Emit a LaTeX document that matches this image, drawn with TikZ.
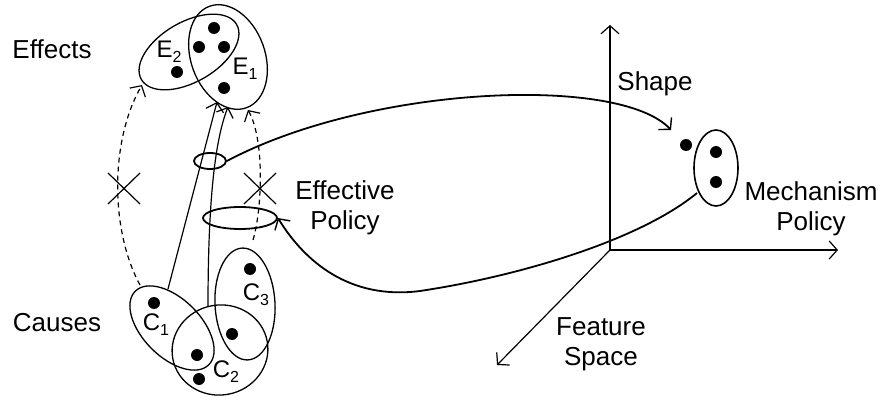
\documentclass[tikz,border=0pt]{standalone}
\usepackage{fontspec}
\setmainfont{Liberation Sans}
\usetikzlibrary{arrows.meta,shapes.geometric}
\newcommand\subl[2]{#1\raisebox{-5pt}{\fontsize{16}{16}\selectfont #2}}
\begin{document}
\begin{tikzpicture}[x=1pt,y=1pt,
  lbl/.style={font=\fontsize{26}{30}\selectfont, align=center, inner sep=0pt},
  sublbl/.style={font=\fontsize{24}{26}\selectfont, inner sep=0pt},
  oval/.style={draw, line width=1.3pt, ellipse, inner sep=0pt},
  dot/.style={fill, circle, minimum size=12pt, inner sep=0pt},
  barb/.style={-{Straight Barb[length=8pt,width=18pt,line width=1.2pt]}},
  thinline/.style={line width=1.2pt},
  curveline/.style={line width=1.8pt},
  dashline/.style={line width=1.2pt, dash pattern=on 5pt off 4pt}
]
\useasboundingbox (0,0) rectangle (881,-401);

% effect sets
\node[oval, minimum width=110pt, minimum height=60pt, rotate=30] (E2) at (189,-52) {};
\node[oval, minimum width=74pt, minimum height=108pt, rotate=20] (E1) at (228,-57) {};
\node[dot] (ed1) at (214,-28) {};
\node[dot] (ed2) at (199,-47) {};
\node[dot] (ed3) at (224,-47) {};
\node[dot] (ed4) at (177,-72) {};
\node[dot] (ed5) at (224,-88) {};
\node[sublbl] (E2l) at (169,-52) {\subl{E}{2}};
\node[sublbl] (E1l) at (245,-69) {\subl{E}{1}};

% cause sets
\node[oval, minimum width=104pt, minimum height=58pt, rotate=-45] (C1) at (172,-328) {};
\node[oval, minimum width=96pt, minimum height=90pt, rotate=10] (C2) at (220,-350) {};
\node[oval, minimum width=60pt, minimum height=112pt, rotate=3] (C3) at (245,-304) {};
\node[dot] (cd1) at (154,-303) {};
\node[dot] (cd2) at (250,-269) {};
\node[dot] (cd3) at (232,-334) {};
\node[dot] (cd4) at (197,-355) {};
\node[dot] (cd5) at (199,-379) {};
\node[sublbl] (C1l) at (156,-325) {\subl{C}{1}};
\node[sublbl] (C3l) at (256,-295) {\subl{C}{3}};
\node[sublbl] (C2l) at (226,-372) {\subl{C}{2}};

% policy ellipses
\node[oval, line width=1.8pt, minimum width=32pt, minimum height=16pt] (small) at (210,-161) {};
\node[oval, line width=1.8pt, minimum width=74pt, minimum height=22pt] (big) at (240,-218) {};

% mechanism
\node[oval, line width=1.6pt, minimum width=44pt, minimum height=76pt] (mech) at (716,-168) {};
\node[dot] (md1) at (716,-152) {};
\node[dot] (md2) at (716,-182) {};
\node[dot] (md3) at (686,-145) {};

% connector endpoints
\coordinate (c1top) at (168,-289);
\coordinate (e1a) at (217,-102);
\coordinate (c2top) at (208,-307);
\coordinate (e1b) at (228,-107);
\coordinate (c1l) at (140,-285);
\coordinate (e2b) at (142,-85);
\coordinate (c3t) at (253,-240);
\coordinate (e1c) at (248,-110);
\coordinate (shapeend) at (671,-130);
\coordinate (mechout) at (697,-193);
\coordinate (mid) at (420,-291);

% solid causal links
\draw[thinline, barb] (c1top) -- (e1a);
\draw[thinline, barb] (c2top) .. controls (208,-200) and (215,-140) .. (e1b);

% dashed links
\draw[dashline, barb] (c1l) .. controls (110,-230) and (110,-140) .. (e2b);
\draw[dashline, barb] (c3t) .. controls (262,-210) and (265,-140) .. (e1c);

% crosses
\draw[thinline] (108,-173) -- (140,-204) (108,-204) -- (140,-173);
\draw[thinline] (244,-173) -- (276,-204) (244,-204) -- (276,-173);

% axes
\coordinate (O) at (610,-250);
\coordinate (ytop) at (610,-25);
\coordinate (xend) at (838,-250);
\coordinate (zend) at (497,-365);
\draw[thinline, barb] (O) -- (ytop);
\draw[thinline, barb] (O) -- (xend);
\draw[thinline, barb] (O) -- (zend);

% curves
\draw[curveline, -{Straight Barb[length=8pt,width=18pt,line width=1.4pt]}] (small.east) .. controls (370,-85) and (620,-75) .. (shapeend);
\draw[curveline, -{Straight Barb[length=8pt,width=18pt,line width=1.4pt]}] (mechout) .. controls (640,-240) and (520,-276) .. (mid) .. controls (350,-300) and (305,-262) .. (big.east);

% labels
\node[lbl] (effects) at (52,-49) {Effects};
\node[lbl] (causes) at (57,-323) {Causes};
\node[lbl] (effpol) at (345,-208) {Effective\\Policy};
\node[lbl] (shape) at (655,-84) {Shape};
\node[lbl] (mechpol) at (811,-209) {Mechanism\\Policy};
\node[lbl] (feat) at (601,-344) {Feature\\Space};
\end{tikzpicture}
\end{document}
